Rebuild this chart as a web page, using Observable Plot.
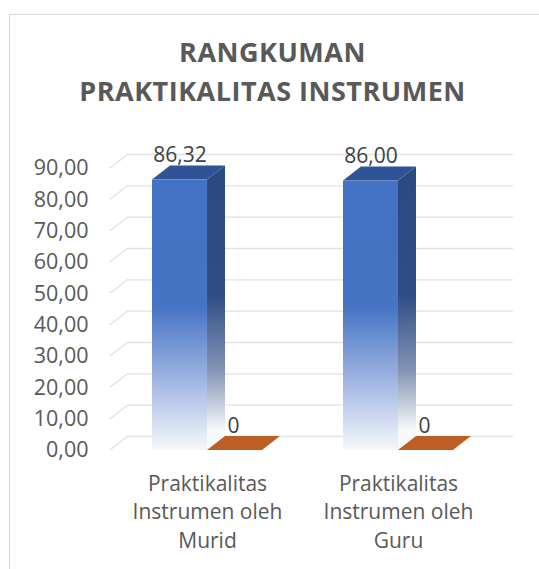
<!DOCTYPE html>
<html><head><meta charset="utf-8">
<script src="https://cdn.jsdelivr.net/npm/d3@7"></script>
<script src="https://cdn.jsdelivr.net/npm/@observablehq/plot@0.6"></script>
<style>
body{margin:0;background:#fff;font-family:'Open Sans';}
#frame{position:absolute;left:9px;top:14px;width:600px;height:600px;border:1px solid #d9d9d9;box-sizing:border-box;}
#title{position:absolute;left:0;top:32px;width:545px;text-align:center;font:bold 27px/39px 'Open Sans';color:#595959;letter-spacing:0.5px;z-index:2;}
#chart{position:absolute;left:0;top:0;z-index:1;}
</style></head>
<body>
<div id="frame"></div>
<div id="title">RANGKUMAN<br>PRAKTIKALITAS INSTRUMEN</div>
<div id="chart"></div>
<script>
// ---- data ----
const categories = ["Praktikalitas\nInstrumen oleh\nMurid", "Praktikalitas\nInstrumen oleh\nGuru"];
const seriesBlue = [86.32, 86.00];
const seriesOrange = [0, 0];
const yTicks = [0, 10, 20, 30, 40, 50, 60, 70, 80, 90];

const rows = categories.map((c, i) => ({category: c, blue: seriesBlue[i], orange: seriesOrange[i]}));

const loc = d3.formatLocale({decimal: ",", thousands: ".", grouping: [3], currency: ["", ""]});
const fmt2 = loc.format(".2f");
const fmt0 = loc.format("d");

// depth offsets for the 3D look
const DX = 18, DY = -14;

function defs() {
  const d = d3.create("svg:defs");
  const g1 = d.append("linearGradient").attr("id", "gFront").attr("x1", 0).attr("y1", 0).attr("x2", 0).attr("y2", 1);
  g1.append("stop").attr("offset", "0").attr("stop-color", "#4472c4");
  g1.append("stop").attr("offset", "0.47").attr("stop-color", "#4674c4");
  g1.append("stop").attr("offset", "0.75").attr("stop-color", "#a2b7e2");
  g1.append("stop").attr("offset", "1").attr("stop-color", "#f6f8fc");
  const g2 = d.append("linearGradient").attr("id", "gSide").attr("x1", 0).attr("y1", 0).attr("x2", 0).attr("y2", 1);
  g2.append("stop").attr("offset", "0").attr("stop-color", "#2c4a82");
  g2.append("stop").attr("offset", "0.45").attr("stop-color", "#2e4d86");
  g2.append("stop").attr("offset", "0.72").attr("stop-color", "#8494b3");
  g2.append("stop").attr("offset", "0.93").attr("stop-color", "#f8f9fb");
  return () => d.node();
}

function diagonals() {
  return (index, scales, values, dims) => {
    const g = d3.create("svg:g").attr("stroke", "#e2e2e2").attr("stroke-width", 1.3).attr("fill", "none");
    const x0 = dims.marginLeft;
    for (const t of yTicks) {
      const y = scales.y(t);
      g.append("path").attr("d", `M${x0},${y}L${x0 + DX},${y + DY}`);
    }
    return g.node();
  };
}

function bw(scales) {
  return scales.x.bandwidth ? scales.x.bandwidth() : scales.scales.x.bandwidth;
}

function blueFaces() {
  return (index, scales) => {
    const g = d3.create("svg:g");
    const w = bw(scales) / 2;
    for (const d of rows) {
      const xl = scales.x(d.category), xr = xl + w;
      const yt = scales.y(d.blue), yb = scales.y(0);
      g.append("path").attr("fill", "url(#gSide)")
        .attr("d", `M${xr},${yt}L${xr + DX},${yt + DY}L${xr + DX},${yb + DY}L${xr},${yb}Z`);
      g.append("path").attr("fill", "#2f5496")
        .attr("d", `M${xl},${yt}L${xr},${yt}L${xr + DX},${yt + DY}L${xl + DX},${yt + DY}Z`);
    }
    return g.node();
  };
}

function orangeFaces() {
  return (index, scales) => {
    const g = d3.create("svg:g");
    const w = bw(scales) / 2;
    for (const d of rows) {
      const xl = scales.x(d.category) + w, xr = xl + w;
      const yt = scales.y(d.orange);
      g.append("path").attr("fill", "#bb5f24")
        .attr("d", `M${xl},${yt}L${xr},${yt}L${xr + DX},${yt + DY}L${xl + DX},${yt + DY}Z`);
    }
    return g.node();
  };
}

const chart = Plot.plot({
  width: 539,
  height: 569,
  marginLeft: 110,
  marginRight: 44,
  marginTop: 168,
  marginBottom: 119,
  style: {fontFamily: "'Open Sans'", fontSize: "21px", color: "#595959", background: "transparent"},
  x: {type: "band", domain: categories, paddingInner: 0.424, paddingOuter: 0.22, round: false},
  y: {domain: [0, 90]},
  marks: [
    defs(),
    Plot.ruleY(yTicks, {dx: DX, dy: DY, stroke: "#e2e2e2", strokeWidth: 1.3}),
    diagonals(),
    blueFaces(),
    Plot.barY(rows, {x: "category", y: "blue", insetRight: 55, fill: "url(#gFront)"}),
    orangeFaces(),
    Plot.text(rows, {x: "category", y: "blue", text: d => fmt2(d.blue), dx: -27.5, dy: -24.5, fontSize: 21, fill: "#404040"}),
    Plot.text(rows, {x: "category", y: "orange", text: d => fmt0(d.orange), dx: 26, dy: -24.5, fontSize: 21, fill: "#404040"}),
    Plot.axisY({ticks: yTicks, tickFormat: fmt2, tickSize: 0, tickPadding: 22, fontSize: 21.5, label: null}),
    Plot.axisX({tickSize: 0, tickPadding: 20, fontSize: 21, lineHeight: 1.36, label: null})
  ]
});
document.getElementById("chart").appendChild(chart);
</script>
</body></html>
